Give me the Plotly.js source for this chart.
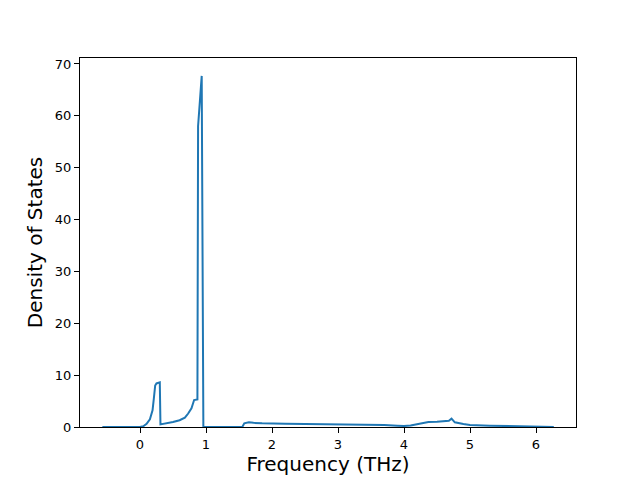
<!DOCTYPE html>
<html>
<head>
<meta charset="utf-8">
<script src="https://cdn.plot.ly/plotly-3.0.1.min.js"></script>
<style>html,body{margin:0;padding:0;background:#fff;}#chart{width:640px;height:480px;}</style>
</head>
<body>
<div id="chart"></div>
<script>
const frequency = [-0.57, 0.0, 0.05, 0.10, 0.15, 0.19, 0.21, 0.23, 0.25, 0.28, 0.30, 0.31, 0.40, 0.50, 0.60, 0.68, 0.73, 0.78, 0.82, 0.87, 0.88, 0.935, 0.96,
  1.55, 1.58, 1.65, 1.72, 1.85, 2.2, 2.9, 3.5, 3.7, 3.9, 4.0, 4.1, 4.2, 4.37, 4.5, 4.68, 4.72, 4.77, 4.9, 5.0, 5.3, 5.7, 6.0, 6.27];
const dos = [0, 0, 0.15, 0.6, 1.5, 3.2, 5.5, 8.0, 8.4, 8.6, 8.6, 0.5, 0.7, 0.95, 1.3, 1.8, 2.6, 3.6, 5.2, 5.3, 58, 67.7, 0,
  0, 0.7, 0.9, 0.8, 0.7, 0.65, 0.6, 0.45, 0.4, 0.25, 0.2, 0.3, 0.5, 0.95, 1.0, 1.2, 1.6, 0.9, 0.6, 0.4, 0.25, 0.15, 0.05, 0];
const xTicks = [0, 1, 2, 3, 4, 5, 6];
const yTicks = [0, 10, 20, 30, 40, 50, 60, 70];

const trace = {x: frequency, y: dos, type: 'scatter', mode: 'lines',
  line: {color: '#1f77b4', width: 2}, hoverinfo: 'skip'};

const axisCommon = {showgrid: false, zeroline: false, showline: true, mirror: true,
  linecolor: '#000', linewidth: 1, ticks: 'outside', ticklen: 5, tickwidth: 1, tickcolor: '#000',
  tickfont: {family: 'DejaVu Sans', size: 13, color: '#000'}};

const layout = {
  width: 640, height: 480,
  margin: {l: 80, r: 64, t: 58, b: 53},
  paper_bgcolor: '#fff', plot_bgcolor: '#fff',
  showlegend: false,
  font: {family: 'DejaVu Sans', color: '#000'},
  xaxis: Object.assign({}, axisCommon, {range: [-0.909, 6.606], tickvals: xTicks, ticktext: xTicks.map(String),
    title: {text: 'Frequency (THz)', font: {family: 'DejaVu Sans', size: 20, color: '#000'}, standoff: 5}}),
  yaxis: Object.assign({}, axisCommon, {range: [0, 71.15], tickvals: yTicks, ticktext: yTicks.map(String),
    title: {text: 'Density of States', font: {family: 'DejaVu Sans', size: 20, color: '#000'}, standoff: 6}})
};
Plotly.newPlot('chart', [trace], layout, {displayModeBar: false, staticPlot: true});
</script>
</body>
</html>
